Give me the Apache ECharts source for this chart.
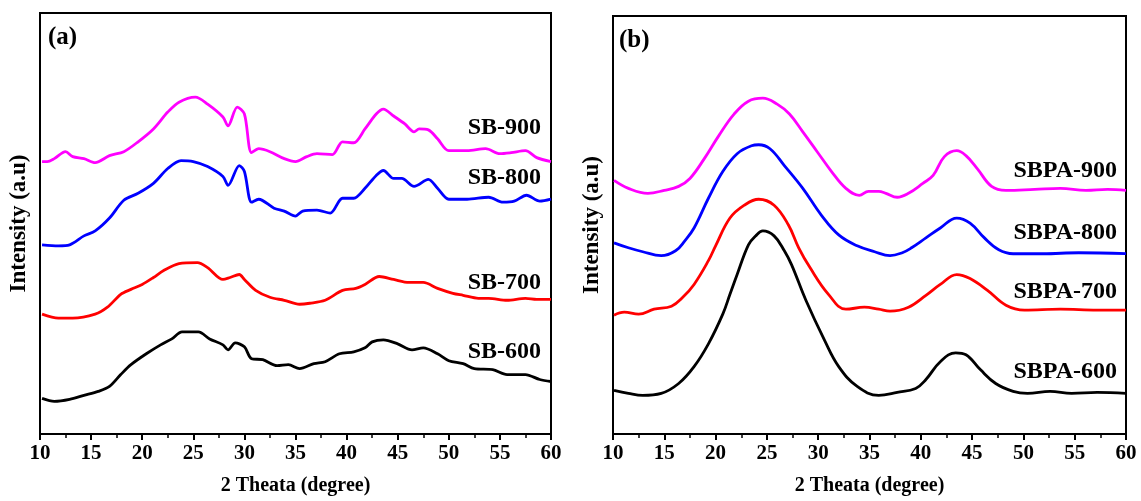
<!DOCTYPE html>
<html><head><meta charset="utf-8">
<script src="https://cdn.jsdelivr.net/npm/echarts@6/dist/echarts.min.js"></script>
<style>html,body{margin:0;padding:0;background:#fff}#c{width:1141px;height:501px}</style>
</head><body><div id="c"></div>
<script>
const xTicks = [10,15,20,25,30,35,40,45,50,55,60];
const sb900 = [[10.2,275],[10.7,275],[11.4,278],[12.5,285],[13.2,280],[14.3,278],[15.4,274],[16.8,281],[18.2,285],[19.6,295],[21.1,308],[22.5,325],[23.6,335],[25.2,340],[26.4,333],[27.9,320],[28.4,311],[29.3,330],[30.0,323],[30.7,284],[31.4,288],[32.5,285],[33.9,278],[35.0,275],[36.1,280],[37.1,283],[38.6,282],[39.6,295],[40.7,294],[41.8,308],[42.9,323],[43.6,328],[44.6,321],[45.7,313],[46.6,305],[47.1,308],[48.0,307],[48.9,298],[50.0,286],[51.8,286],[53.6,288],[55.0,283],[56.1,284],[57.5,286],[58.6,279],[60,275]];
const sb800 = [[10.2,191],[11.8,190],[12.9,191],[14.3,200],[15.4,205],[16.8,218],[18.2,236],[19.6,243],[21.1,253],[22.5,268],[23.8,276],[25.0,275],[26.4,270],[27.9,260],[28.4,251],[29.5,271],[30.0,265],[30.7,234],[31.4,237],[32.9,228],[33.9,225],[35.0,220],[35.7,225],[37.1,226],[38.4,223],[39.6,238],[40.7,238],[41.8,248],[42.9,261],[43.6,266],[44.6,258],[45.4,258],[46.6,250],[48.0,257],[48.9,248],[50.0,237],[51.8,237],[53.9,239],[55.3,234],[56.4,235],[57.6,241],[58.9,235],[60,237]];
const sb700 = [[10.2,121],[11.8,117],[13.2,117],[15.4,121],[16.6,128],[17.9,141],[18.9,146],[20.0,151],[21.1,158],[22.1,165],[23.6,172],[25.4,173],[26.4,168],[27.9,156],[28.6,158],[29.5,161],[30.0,156],[31.1,145],[32.5,138],[33.9,135],[35.4,131],[36.4,132],[37.9,135],[39.6,145],[40.9,147],[41.8,151],[43.2,159],[44.6,156],[46.1,153],[47.5,153],[48.9,147],[50.4,142],[51.4,140],[52.9,137],[53.9,137],[55.7,135],[57.5,137],[58.6,136],[60,136]];
const sb600 = [[10.2,36],[11.4,33],[12.9,35],[14.3,39],[15.7,43],[16.8,48],[17.9,60],[18.9,70],[20.4,81],[21.8,90],[22.9,96],[23.9,103],[25.5,103],[26.6,96],[27.9,90],[28.4,85],[29.1,92],[30.0,88],[30.7,76],[31.8,75],[33.2,69],[34.3,70],[35.4,66],[36.8,71],[37.9,73],[39.3,81],[40.7,83],[41.8,87],[42.5,93],[43.6,95],[45.0,91],[46.4,85],[47.5,87],[48.9,81],[50.0,74],[51.4,71],[52.5,66],[54.3,65],[55.7,60],[57.5,60],[58.9,55],[60,53]];
const sbpa900 = [[10.1,256],[11.5,248],[13.4,243],[15.0,246],[16.4,250],[17.5,258],[18.9,278],[20.3,301],[21.8,323],[23.2,336],[24.6,339],[26.0,333],[27.2,323],[28.5,305],[29.9,285],[31.3,265],[32.7,248],[34.0,241],[34.9,245],[35.9,245],[36.6,243],[37.7,239],[38.8,243],[40.2,253],[41.2,261],[42.3,280],[43.5,286],[44.4,281],[45.5,268],[46.9,250],[48.3,246],[51.1,247],[53.6,248],[56.1,246],[58.2,247],[60,246]];
const sbpa800 = [[10.1,193],[11.5,188],[12.9,184],[14.7,180],[16.1,185],[17.0,195],[17.9,208],[19.3,238],[20.7,265],[22.1,283],[23.5,291],[24.2,292],[25.3,288],[26.7,271],[28.5,248],[30.3,221],[32.0,201],[33.8,190],[35.5,184],[37.0,180],[38.2,183],[39.1,188],[40.5,198],[41.9,208],[43.5,218],[44.8,213],[46.2,198],[47.6,186],[49.0,182],[51.9,182],[55.4,183],[60,182]];
const sbpa700 = [[10.1,120],[11.1,123],[12.5,121],[14.0,126],[15.7,129],[16.8,138],[17.9,151],[19.3,175],[20.0,190],[21.4,218],[22.8,231],[24.2,237],[25.7,231],[27.1,211],[28.1,188],[29.2,168],[31.0,141],[32.7,126],[34.5,128],[35.9,126],[37.0,124],[38.8,128],[40.5,140],[41.9,151],[43.5,161],[44.8,157],[46.5,145],[48.3,130],[50.1,125],[53.6,126],[57.2,125],[60,125]];
const sbpa600 = [[10.1,44],[11.5,41],[12.9,39],[14.7,41],[16.4,51],[17.9,68],[19.3,91],[20.7,121],[21.4,141],[22.1,161],[23.2,191],[23.9,200],[24.6,205],[25.7,200],[26.7,185],[27.4,171],[28.8,135],[30.6,95],[32.0,68],[33.8,48],[35.9,39],[37.7,42],[39.5,46],[40.5,55],[41.9,73],[43.4,82],[44.4,80],[45.8,65],[47.3,51],[49.0,43],[50.4,41],[52.6,43],[54.7,41],[57.2,42],[60,41]];
const leftNames = ['SB-900','SB-800','SB-700','SB-600'];
const rightNames = ['SBPA-900','SBPA-800','SBPA-700','SBPA-600'];
const colors = ['#ff00ff','#0000ff','#ff0000','#000000'];

const FONT = '"Liberation Serif","Times New Roman",serif';
function xAx(gi){
  return {type:'value',gridIndex:gi,min:xTicks[0],max:xTicks[xTicks.length-1],interval:5,
    name:'2 Theata (degree)',nameLocation:'middle',nameGap:42,
    nameTextStyle:{fontFamily:FONT,fontWeight:'bold',fontSize:20,color:'#000'},
    axisLine:{lineStyle:{color:'#000',width:2}},
    axisTick:{show:true,length:6,inside:false,lineStyle:{color:'#000',width:2}},
    minorTick:{show:true,splitNumber:2,length:4,lineStyle:{color:'#000',width:1.5}},
    axisLabel:{fontFamily:FONT,fontWeight:'bold',fontSize:21,color:'#000',margin:9},
    splitLine:{show:false}};
}
function yAx(gi,max){
  return {type:'value',gridIndex:gi,min:0,max:max,
    name:'Intensity (a.u)',nameLocation:'middle',nameGap:9,
    nameTextStyle:{fontFamily:FONT,fontWeight:'bold',fontSize:23,color:'#000'},
    axisLine:{show:true,lineStyle:{color:'#000',width:2}},
    axisTick:{show:false},axisLabel:{show:false},splitLine:{show:false}};
}
const leftData=[sb900,sb800,sb700,sb600];
const rightData=[sbpa900,sbpa800,sbpa700,sbpa600];
const series=[];
leftData.forEach((d,i)=>series.push({type:'line',name:leftNames[i],xAxisIndex:0,yAxisIndex:0,data:d,smooth:0.3,showSymbol:false,lineStyle:{color:colors[i],width:2.8}}));
rightData.forEach((d,i)=>series.push({type:'line',name:rightNames[i],xAxisIndex:1,yAxisIndex:1,data:d,smooth:0.4,showSymbol:false,lineStyle:{color:colors[i],width:2.8}}));

function txt(t,x,y,align,size){return {type:'text',x:x,y:y,style:{text:t,textAlign:align||'right',textVerticalAlign:'middle',fontFamily:FONT,fontWeight:'bold',fontSize:size||24,fill:'#000'}};}
const chart=echarts.init(document.getElementById('c'));
chart.setOption({
  animation:false,
  backgroundColor:'#fff',
  grid:[{left:40,top:13,width:511,height:425,show:true,borderColor:'#000',borderWidth:2},
        {left:613,top:16,width:513,height:422,show:true,borderColor:'#000',borderWidth:2}],
  xAxis:[xAx(0),xAx(1)],
  yAxis:[yAx(0,425),yAx(1,422)],
  series:series,
  graphic:[
    txt('(a)',48,38,'left',25),txt('(b)',619,41,'left',25),
    txt('SB-900',541,128),txt('SB-800',541,178),txt('SB-700',541,283),txt('SB-600',541,352),
    txt('SBPA-900',1117,171),txt('SBPA-800',1117,233),txt('SBPA-700',1117,292),txt('SBPA-600',1117,372)
  ]
});
</script></body></html>
